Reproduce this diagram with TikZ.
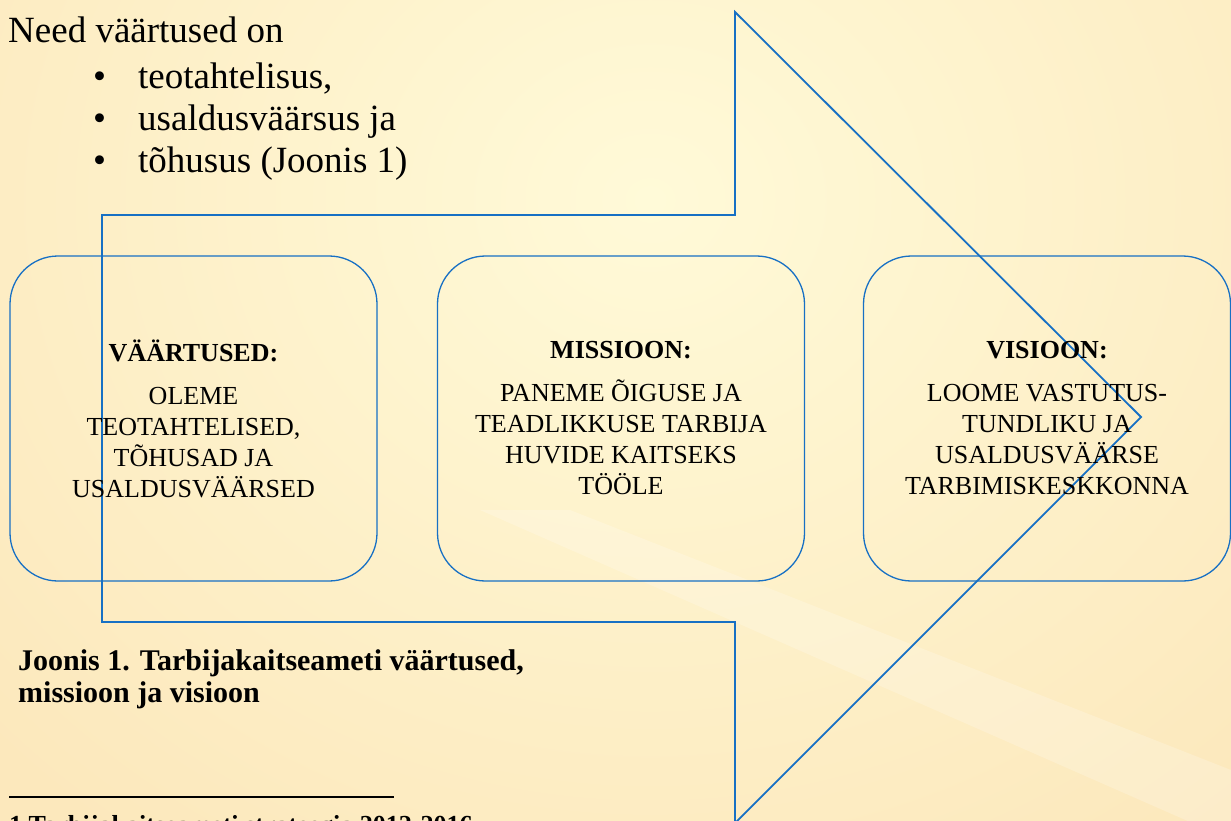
\documentclass[tikz,border=0pt]{standalone}
\usepackage{fontspec}
\setmainfont{Liberation Serif}
\definecolor{lineblue}{RGB}{23,112,196}
\definecolor{bgin}{RGB}{255,250,216}
\definecolor{bgout}{RGB}{252,232,188}
\begin{document}
\begin{tikzpicture}[x=1pt,y=-1pt,
  valbox/.style={draw=lineblue, line width=1.3pt, rounded corners=48pt,
    minimum width=367pt, minimum height=325pt, align=center, inner sep=0pt,
    font=\fontsize{26}{31}\selectfont},
  arrowline/.style={draw=lineblue, line width=1.8pt, line join=miter},
  toptext/.style={anchor=base west, inner sep=0pt, font=\fontsize{37}{44}\selectfont},
  captext/.style={anchor=base west, inner sep=0pt, font=\fontsize{30}{32}\selectfont\bfseries},
  foottext/.style={anchor=base west, inner sep=0pt, font=\fontsize{26}{30}\selectfont\bfseries}]
\useasboundingbox (0,0) rectangle (1231,820);
\clip (0,0) rectangle (1231,820);
% background
\shade[inner color=bgin, outer color=bgout] (-250,-600) rectangle (1550,1000);
\fill[white, opacity=0.2] (480,510) -- (570,510) -- (1231,770) -- (1231,840) -- cycle;
% arrow outline
\coordinate (a1) at (102,215);
\coordinate (a2) at (735,215);
\coordinate (a3) at (735,12);
\coordinate (a4) at (1141,417);
\coordinate (a5) at (735,823);
\coordinate (a6) at (735,622);
\coordinate (a7) at (102,622);
\draw[arrowline] (a1) -- (a2) -- (a3) -- (a4) -- (a5) -- (a6) -- (a7) -- cycle;
% boxes
\node[valbox] (vaartused) at (193.5,418.5)
  {\textbf{VÄÄRTUSED:}\\[12pt]OLEME\\TEOTAHTELISED,\\TÕHUSAD JA\\USALDUSVÄÄRSED};
\node[valbox] (missioon) at (621,418.5)
  {\textbf{MISSIOON:}\\[12pt]PANEME ÕIGUSE JA\\TEADLIKKUSE TARBIJA\\HUVIDE KAITSEKS\\TÖÖLE};
\node[valbox] (visioon) at (1047,418.5)
  {\textbf{VISIOON:}\\[12pt]LOOME VASTUTUS-\\TUNDLIKU JA\\USALDUSVÄÄRSE\\TARBIMISKESKKONNA};
% top text
\node[toptext] (intro) at (8,42) {Need väärtused on};
\node[toptext] (bul1) at (93,88) {•};
\node[toptext] (item1) at (138,88) {teotahtelisus,};
\node[toptext] (bul2) at (93,130) {•};
\node[toptext] (item2) at (138,130) {usaldusväärsus ja};
\node[toptext] (bul3) at (93,172) {•};
\node[toptext] (item3) at (138,172) {tõhusus (Joonis 1)};
% caption
\node[captext] (cap1) at (18,670) {Joonis 1. Tarbijakaitseameti väärtused,};
\node[captext] (cap2) at (18,702) {missioon ja visioon};
% footnote
\coordinate (r1) at (9,797);
\coordinate (r2) at (394,797);
\draw[line width=1.5pt] (r1) -- (r2);
\node[foottext] (foot) at (9,833) {1 Tarbijakaitseameti strateegia 2012-2016};
\end{tikzpicture}
\end{document}
